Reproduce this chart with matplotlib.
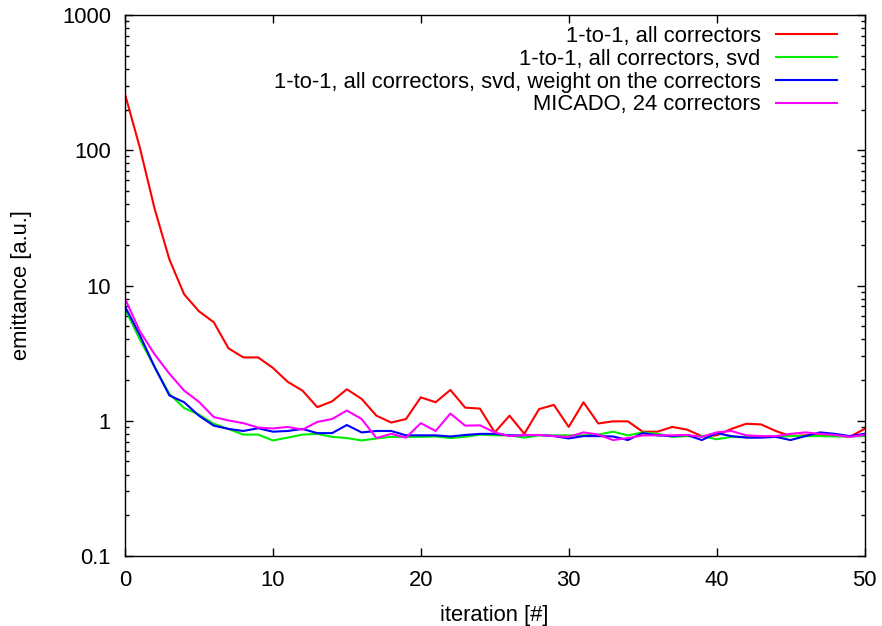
import matplotlib
matplotlib.use("Agg")
import matplotlib.pyplot as plt
from matplotlib.ticker import LogLocator, FixedLocator, NullFormatter, FixedFormatter

iterations = list(range(51))

red_vals = [260, 105, 37, 15.6, 8.6, 6.45, 5.35, 3.43, 2.94, 2.94,
            2.46, 1.94, 1.67, 1.26, 1.39, 1.71, 1.45, 1.09, 0.97, 1.03,
            1.49, 1.37, 1.69, 1.25, 1.23, 0.82, 1.09, 0.80, 1.22, 1.31,
            0.90, 1.37, 0.955, 0.99, 0.99, 0.83, 0.83, 0.90, 0.86, 0.77,
            0.78, 0.87, 0.95, 0.94, 0.84, 0.77, 0.78, 0.78, 0.78, 0.76, 0.87]
green_vals = [6.7, 4.0, 2.5, 1.58, 1.24, 1.11, 0.95, 0.87, 0.79, 0.79,
              0.715, 0.75, 0.79, 0.80, 0.76, 0.745, 0.715, 0.74, 0.76, 0.76,
              0.76, 0.765, 0.745, 0.76, 0.79, 0.78, 0.78, 0.75, 0.78, 0.78,
              0.78, 0.78, 0.79, 0.83, 0.78, 0.82, 0.80, 0.76, 0.77, 0.77,
              0.73, 0.76, 0.76, 0.76, 0.76, 0.77, 0.77, 0.77, 0.765, 0.765, 0.77]
blue_vals = [7.0, 4.3, 2.5, 1.54, 1.37, 1.09, 0.92, 0.87, 0.84, 0.88,
             0.83, 0.84, 0.87, 0.81, 0.81, 0.93, 0.82, 0.84, 0.84, 0.78,
             0.78, 0.78, 0.765, 0.785, 0.80, 0.80, 0.78, 0.78, 0.785, 0.77,
             0.74, 0.77, 0.77, 0.765, 0.72, 0.81, 0.78, 0.77, 0.785, 0.72,
             0.81, 0.77, 0.75, 0.75, 0.76, 0.72, 0.77, 0.82, 0.80, 0.77, 0.80]
magenta_vals = [8.0, 4.6, 3.1, 2.23, 1.67, 1.38, 1.065, 1.005, 0.96, 0.89,
                0.877, 0.90, 0.86, 0.98, 1.03, 1.19, 1.03, 0.745, 0.80, 0.75,
                0.96, 0.84, 1.13, 0.92, 0.925, 0.82, 0.77, 0.785, 0.785, 0.77,
                0.76, 0.82, 0.79, 0.72, 0.745, 0.78, 0.78, 0.78, 0.785, 0.76,
                0.82, 0.84, 0.78, 0.77, 0.77, 0.80, 0.82, 0.80, 0.785, 0.76, 0.785]

labels = ["1-to-1, all correctors",
          "1-to-1, all correctors, svd",
          "1-to-1, all correctors, svd, weight on the correctors",
          "MICADO, 24 correctors"]
colors = ["#ff0000", "#00ee00", "#0000ff", "#ff00ff"]

xticks = [0, 10, 20, 30, 40, 50]
yticks = [0.1, 1, 10, 100, 1000]
ytick_labels = ["0.1", "1", "10", "100", "1000"]

plt.rcParams['font.family'] = ['Liberation Sans', 'DejaVu Sans']
plt.rcParams['font.size'] = 15.8

fig = plt.figure(figsize=(8.82, 6.26), dpi=100)
ax = fig.add_axes([125/882, 1 - 556/626, (864.5-125)/882, (556-15)/626])

series = [red_vals, green_vals, blue_vals, magenta_vals]
for vals, lab, col in zip(series, labels, colors):
    ax.plot(iterations, vals, color=col, lw=1.5, label=lab)

ax.set_yscale('log')
ax.set_xlim(0, 50)
ax.set_ylim(0.1, 1000)
ax.xaxis.set_major_locator(FixedLocator(xticks))
ax.set_xticklabels([str(t) for t in xticks])
ax.yaxis.set_major_locator(FixedLocator(yticks))
ax.yaxis.set_major_formatter(FixedFormatter(ytick_labels))
ax.yaxis.set_minor_locator(LogLocator(base=10, subs=range(2, 10), numticks=20))
ax.yaxis.set_minor_formatter(NullFormatter())

ax.tick_params(axis='both', which='major', direction='in', length=6, width=1,
               top=True, right=True, pad=10)
ax.tick_params(axis='both', which='minor', direction='in', length=3, width=1,
               top=True, right=True)
ax.tick_params(axis='y', which='major', pad=10)
for sp in ax.spines.values():
    sp.set_linewidth(1.0)

ax.set_xlabel("iteration [#]", labelpad=10)
ax.set_ylabel("emittance [a.u.]", labelpad=22)

leg = ax.legend(loc='upper right', frameon=False, markerfirst=False,
                handlelength=2.8, handletextpad=0.7, labelspacing=0.08,
                borderaxespad=0.3, bbox_to_anchor=(0.984, 1.008))
for t in leg.get_texts():
    t.set_ha('right')

fig.savefig("out.png", dpi=100)
